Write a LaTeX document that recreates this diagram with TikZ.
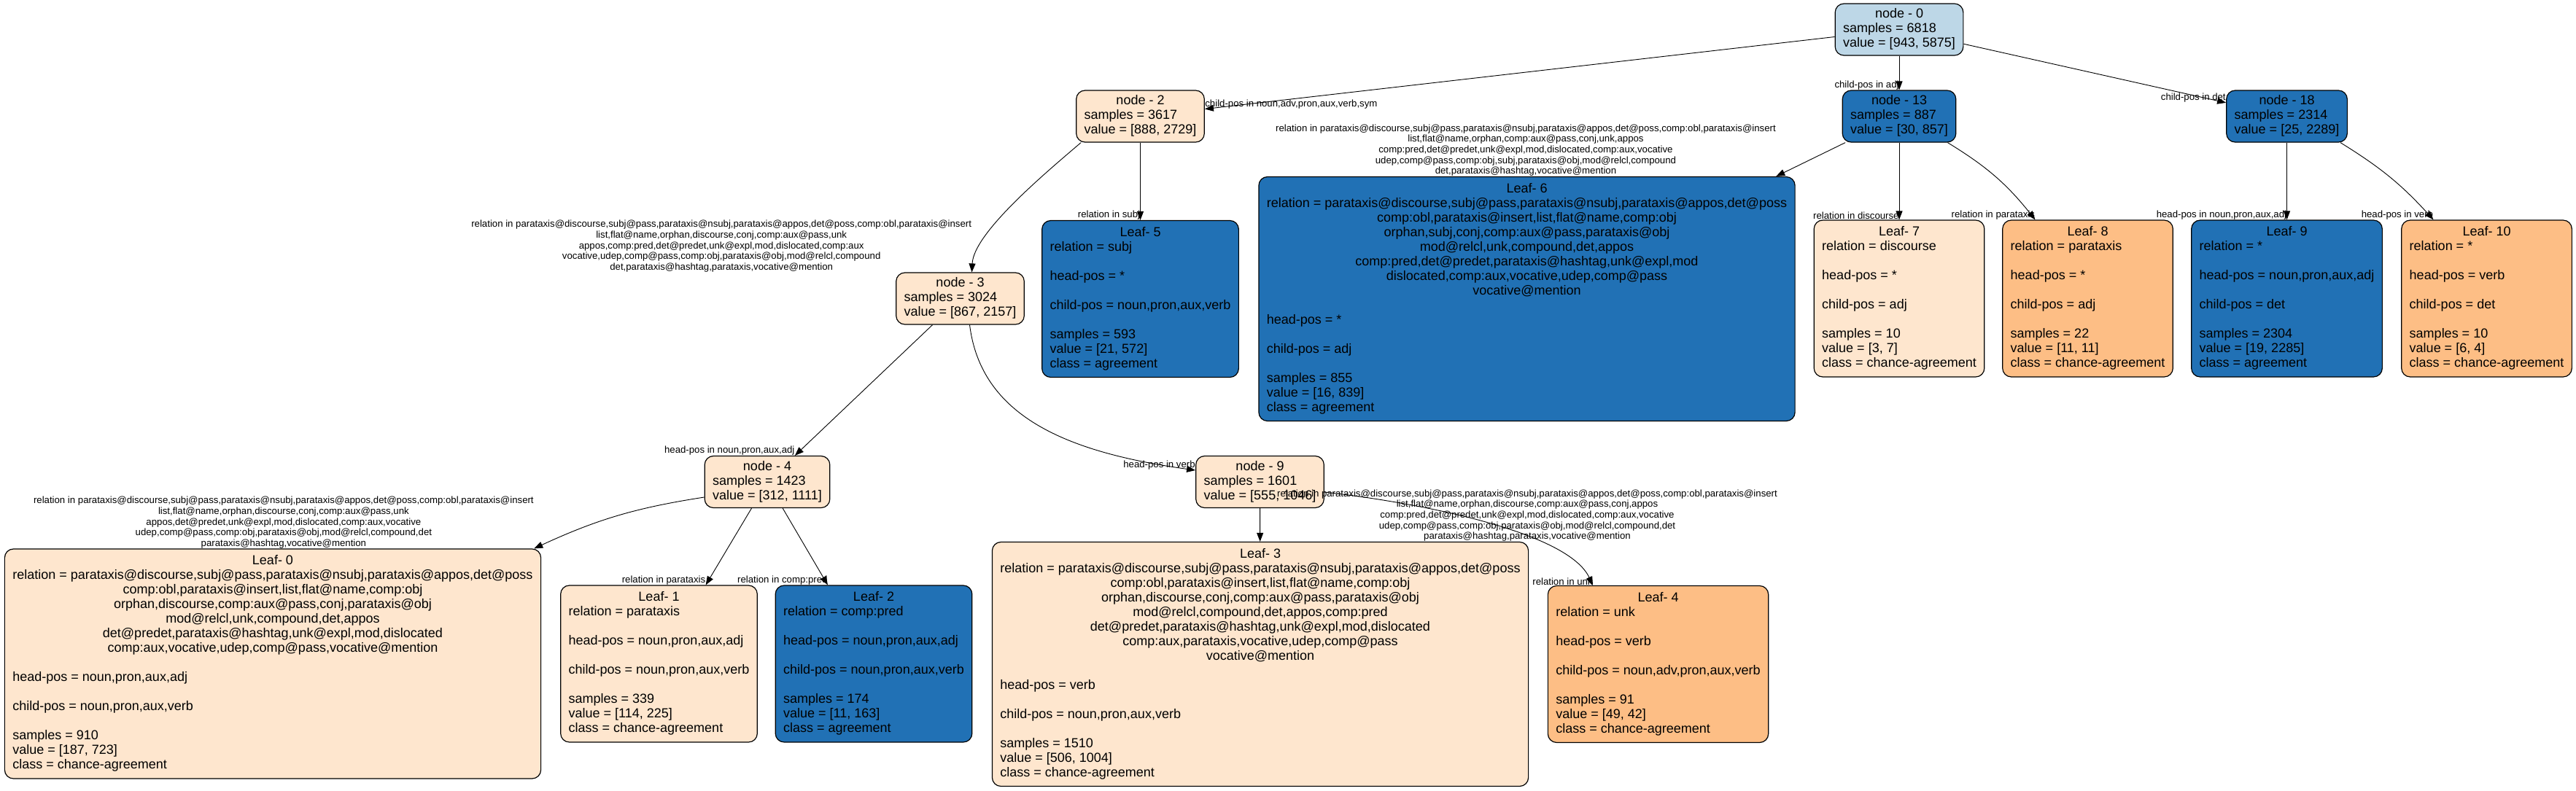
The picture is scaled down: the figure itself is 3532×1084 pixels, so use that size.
\documentclass[tikz,border=0pt]{standalone}
\usepackage{fontspec}
\setmainfont{Liberation Sans}
\usepackage{xcolor}
\usetikzlibrary{arrows.meta}
\definecolor{paleblue}{HTML}{BDD7E7}
\definecolor{deepblue}{HTML}{2171B5}
\definecolor{paleorange}{HTML}{FEE6CE}
\definecolor{midorange}{HTML}{FDBE85}
\newcommand{\ctr}[1]{\multicolumn{1}{@{}c@{}}{#1}}

\begin{document}
\begin{tikzpicture}[x=1pt, y=-1pt,
  tnode/.style={draw, line width=1.2pt, rounded corners=12pt, inner xsep=11pt, inner ysep=5.5pt,
    font=\fontsize{18}{20}\selectfont},
  leafbox/.style={tnode, inner ysep=7.5pt},
  conn/.style={-{Triangle[length=12pt,width=9pt]}, line width=0.9pt},
  elabel/.style={inner sep=0pt, align=center, font=\fontsize{13.2}{14.6}\selectfont}
]
  \useasboundingbox (0,0) rectangle (3532,1084);

  \node[tnode, fill=paleblue] (N0) at (2604,40.5) {\begin{tabular}{@{}l@{}}
    \ctr{node - 0}\\ samples = 6818\\ value = [943, 5875]\end{tabular}};
  \node[tnode, fill=paleorange] (N2) at (1563.5,159.5) {\begin{tabular}{@{}l@{}}
    \ctr{node - 2}\\ samples = 3617\\ value = [888, 2729]\end{tabular}};
  \node[tnode, fill=deepblue] (N13) at (2604,159.5) {\begin{tabular}{@{}l@{}}
    \ctr{node - 13}\\ samples = 887\\ value = [30, 857]\end{tabular}};
  \node[tnode, fill=deepblue] (N18) at (3135.5,159.5) {\begin{tabular}{@{}l@{}}
    \ctr{node - 18}\\ samples = 2314\\ value = [25, 2289]\end{tabular}};
  \node[tnode, fill=paleorange] (N3) at (1316.5,409.5) {\begin{tabular}{@{}l@{}}
    \ctr{node - 3}\\ samples = 3024\\ value = [867, 2157]\end{tabular}};
  \node[tnode, fill=paleorange] (N4) at (1052,661) {\begin{tabular}{@{}l@{}}
    \ctr{node - 4}\\ samples = 1423\\ value = [312, 1111]\end{tabular}};
  \node[tnode, fill=paleorange] (N9) at (1727.5,661) {\begin{tabular}{@{}l@{}}
    \ctr{node - 9}\\ samples = 1601\\ value = [555, 1046]\end{tabular}};

  \node[leafbox, fill=deepblue] (L5) at (1563.5,410) {\begin{tabular}{@{}l@{}}
    \ctr{Leaf- 5}\\
    relation = subj\\
    \\
    head-pos = *\\
    \\
    child-pos = noun,pron,aux,verb\\
    \\
    samples = 593\\
    value = [21, 572]\\
    class = agreement
  \end{tabular}};
  \node[leafbox, fill=deepblue] (L6) at (2093.5,410) {\begin{tabular}{@{}l@{}}
    \ctr{Leaf- 6}\\
    relation = parataxis@discourse,subj@pass,parataxis@nsubj,parataxis@appos,det@poss\\
    \ctr{comp:obl,parataxis@insert,list,flat@name,comp:obj}\\
    \ctr{orphan,subj,conj,comp:aux@pass,parataxis@obj}\\
    \ctr{mod@relcl,unk,compound,det,appos}\\
    \ctr{comp:pred,det@predet,parataxis@hashtag,unk@expl,mod}\\
    \ctr{dislocated,comp:aux,vocative,udep,comp@pass}\\
    \ctr{vocative@mention}\\
    \\
    head-pos = *\\
    \\
    child-pos = adj\\
    \\
    samples = 855\\
    value = [16, 839]\\
    class = agreement
  \end{tabular}};
  \node[leafbox, fill=paleorange] (L7) at (2604,409.5) {\begin{tabular}{@{}l@{}}
    \ctr{Leaf- 7}\\
    relation = discourse\\
    \\
    head-pos = *\\
    \\
    child-pos = adj\\
    \\
    samples = 10\\
    value = [3, 7]\\
    class = chance-agreement
  \end{tabular}};
  \node[leafbox, fill=midorange] (L8) at (2862.5,409.5) {\begin{tabular}{@{}l@{}}
    \ctr{Leaf- 8}\\
    relation = parataxis\\
    \\
    head-pos = *\\
    \\
    child-pos = adj\\
    \\
    samples = 22\\
    value = [11, 11]\\
    class = chance-agreement
  \end{tabular}};
  \node[leafbox, fill=deepblue] (L9) at (3135.5,409.5) {\begin{tabular}{@{}l@{}}
    \ctr{Leaf- 9}\\
    relation = *\\
    \\
    head-pos = noun,pron,aux,adj\\
    \\
    child-pos = det\\
    \\
    samples = 2304\\
    value = [19, 2285]\\
    class = agreement
  \end{tabular}};
  \node[leafbox, fill=midorange] (L10) at (3409.5,409.5) {\begin{tabular}{@{}l@{}}
    \ctr{Leaf- 10}\\
    relation = *\\
    \\
    head-pos = verb\\
    \\
    child-pos = det\\
    \\
    samples = 10\\
    value = [6, 4]\\
    class = chance-agreement
  \end{tabular}};

  \node[leafbox, fill=paleorange] (L0) at (374,910.5) {\begin{tabular}{@{}l@{}}
    \ctr{Leaf- 0}\\
    relation = parataxis@discourse,subj@pass,parataxis@nsubj,parataxis@appos,det@poss\\
    \ctr{comp:obl,parataxis@insert,list,flat@name,comp:obj}\\
    \ctr{orphan,discourse,comp:aux@pass,conj,parataxis@obj}\\
    \ctr{mod@relcl,unk,compound,det,appos}\\
    \ctr{det@predet,parataxis@hashtag,unk@expl,mod,dislocated}\\
    \ctr{comp:aux,vocative,udep,comp@pass,vocative@mention}\\
    \\
    head-pos = noun,pron,aux,adj\\
    \\
    child-pos = noun,pron,aux,verb\\
    \\
    samples = 910\\
    value = [187, 723]\\
    class = chance-agreement
  \end{tabular}};
  \node[leafbox, fill=paleorange] (L1) at (903.5,910.5) {\begin{tabular}{@{}l@{}}
    \ctr{Leaf- 1}\\
    relation = parataxis\\
    \\
    head-pos = noun,pron,aux,adj\\
    \\
    child-pos = noun,pron,aux,verb\\
    \\
    samples = 339\\
    value = [114, 225]\\
    class = chance-agreement
  \end{tabular}};
  \node[leafbox, fill=deepblue] (L2) at (1198,910.5) {\begin{tabular}{@{}l@{}}
    \ctr{Leaf- 2}\\
    relation = comp:pred\\
    \\
    head-pos = noun,pron,aux,adj\\
    \\
    child-pos = noun,pron,aux,verb\\
    \\
    samples = 174\\
    value = [11, 163]\\
    class = agreement
  \end{tabular}};
  \node[leafbox, fill=paleorange] (L3) at (1728,911) {\begin{tabular}{@{}l@{}}
    \ctr{Leaf- 3}\\
    relation = parataxis@discourse,subj@pass,parataxis@nsubj,parataxis@appos,det@poss\\
    \ctr{comp:obl,parataxis@insert,list,flat@name,comp:obj}\\
    \ctr{orphan,discourse,conj,comp:aux@pass,parataxis@obj}\\
    \ctr{mod@relcl,compound,det,appos,comp:pred}\\
    \ctr{det@predet,parataxis@hashtag,unk@expl,mod,dislocated}\\
    \ctr{comp:aux,parataxis,vocative,udep,comp@pass}\\
    \ctr{vocative@mention}\\
    \\
    head-pos = verb\\
    \\
    child-pos = noun,pron,aux,verb\\
    \\
    samples = 1510\\
    value = [506, 1004]\\
    class = chance-agreement
  \end{tabular}};
  \node[leafbox, fill=midorange] (L4) at (2273.5,911) {\begin{tabular}{@{}l@{}}
    \ctr{Leaf- 4}\\
    relation = unk\\
    \\
    head-pos = verb\\
    \\
    child-pos = noun,adv,pron,aux,verb\\
    \\
    samples = 91\\
    value = [49, 42]\\
    class = chance-agreement
  \end{tabular}};

  \draw[conn] (N0) -- (N2)
    node[elabel, at end, anchor=south west] {child-pos in noun,adv,pron,aux,verb,sym};
  \draw[conn] (N0) -- (N13)
    node[elabel, at end, anchor=south east] {child-pos in adj};
  \draw[conn] (N0) -- (N18)
    node[elabel, at end, anchor=south east] {child-pos in det};

  \draw[conn] (N2) -- (L5)
    node[elabel, at end, anchor=south east] {relation in subj};
  \draw[conn]
    ([xshift=7pt]N2.south west) .. controls (1430,240) and (1335,320) .. ([xshift=16pt]N3.north)
    node[elabel, at end, anchor=south east] {relation in parataxis@discourse,subj@pass,parataxis@nsubj,parataxis@appos,det@poss,comp:obl,parataxis@insert\\
      list,flat@name,orphan,discourse,conj,comp:aux@pass,unk\\
      appos,comp:pred,det@predet,unk@expl,mod,dislocated,comp:aux\\
      vocative,udep,comp@pass,comp:obj,parataxis@obj,mod@relcl,compound\\
      det,parataxis@hashtag,parataxis,vocative@mention}
  ;

  \draw[conn] (N13) -- (L6)
    node[elabel, at end, anchor=south east] {relation in parataxis@discourse,subj@pass,parataxis@nsubj,parataxis@appos,det@poss,comp:obl,parataxis@insert\\
      list,flat@name,orphan,comp:aux@pass,conj,unk,appos\\
      comp:pred,det@predet,unk@expl,mod,dislocated,comp:aux,vocative\\
      udep,comp@pass,comp:obj,subj,parataxis@obj,mod@relcl,compound\\
      det,parataxis@hashtag,vocative@mention}
  ;
  \draw[conn] (N13) -- (L7)
    node[elabel, at end, anchor=south east] {relation in discourse};
  \draw[conn] ([xshift=-12pt]N13.south east) to[bend left=10]
    node[elabel, at end, anchor=south east] {relation in parataxis} ([xshift=-72pt]L8.north);

  \draw[conn] (N18) -- (L9)
    node[elabel, at end, anchor=south east] {head-pos in noun,pron,aux,adj};
  \draw[conn] ([xshift=-10pt]N18.south east) to[bend left=8]
    node[elabel, at end, anchor=south east] {head-pos in verb} ([xshift=-73pt]L10.north);

  \draw[conn] (N3) -- (N4)
    node[elabel, at end, anchor=south east] {head-pos in noun,pron,aux,adj};
  \draw[conn]
    ([xshift=13pt]N3.south) .. controls (1345,570) and (1460,620) .. ([yshift=16pt]N9.west)
    node[elabel, at end, anchor=south east] {head-pos in verb}
  ;

  \draw[conn] ([yshift=-21pt]N4.west) to[bend right=8]
    node[elabel, at end, anchor=south east] {relation in parataxis@discourse,subj@pass,parataxis@nsubj,parataxis@appos,det@poss,comp:obl,parataxis@insert\\
      list,flat@name,orphan,discourse,conj,comp:aux@pass,unk\\
      appos,det@predet,unk@expl,mod,dislocated,comp:aux,vocative\\
      udep,comp@pass,comp:obj,parataxis@obj,mod@relcl,compound,det\\
      parataxis@hashtag,vocative@mention} ([xshift=-10pt]L0.north east);
  \draw[conn] (N4) -- (L1)
    node[elabel, at end, anchor=south east] {relation in parataxis};
  \draw[conn] (N4) -- (L2)
    node[elabel, at end, anchor=south east] {relation in comp:pred};

  \draw[conn] (N9) -- (L3)
    node[elabel, at end, anchor=south west, xshift=23pt] {relation in parataxis@discourse,subj@pass,parataxis@nsubj,parataxis@appos,det@poss,comp:obl,parataxis@insert\\
      list,flat@name,orphan,discourse,comp:aux@pass,conj,appos\\
      comp:pred,det@predet,unk@expl,mod,dislocated,comp:aux,vocative\\
      udep,comp@pass,comp:obj,parataxis@obj,mod@relcl,compound,det\\
      parataxis@hashtag,parataxis,vocative@mention}
  ;
  \draw[conn]
    ([yshift=-14pt]N9.east) .. controls (1950,690) and (2150,730) .. ([xshift=-89.5pt]L4.north)
    node[elabel, at end, anchor=south east] {relation in unk}
  ;
\end{tikzpicture}
\end{document}
